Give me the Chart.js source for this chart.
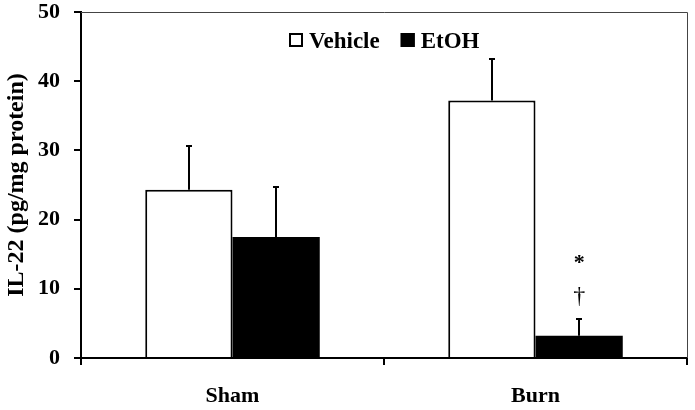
<!DOCTYPE html>
<html>
<head>
<meta charset="utf-8">
<script src="https://cdn.jsdelivr.net/npm/chart.js@4"></script>
<style>
html, body { margin: 0; padding: 0; background: #fff; }
#wrap { width: 695px; height: 410px; }
</style>
</head>
<body>
<div id="wrap"><canvas id="chart" width="695" height="410"></canvas></div>
<script>
// data
var categories = ['Sham', 'Burn'];
var vehicleValues = [24.3, 37.2];
var vehicleErrors = [6.5, 6.1];
var etohValues = [17.5, 3.2];
var etohErrors = [7.3, 2.6];
var yTicks = [0, 10, 20, 30, 40, 50];
// significance marks above Burn / EtOH
var marks = [{ text: '*', series: 1, index: 1, value: 13.7 }, { text: '\u2020', series: 1, index: 1, value: 8.8 }];

var serif = "'Liberation Serif', 'DejaVu Serif', serif";

//error bars, frame, legend and marks
var extrasPlugin = {
	id: 'extras',
	afterDatasetsDraw: function (chart) {
		var ctx = chart.ctx;
		var y = chart.scales.y;
		var area = chart.chartArea;
		ctx.save();

		//thin frame top and right
		ctx.strokeStyle = '#444';
		ctx.lineWidth = 1;
		ctx.beginPath();
		ctx.moveTo(area.left, area.top + 0.5);
		ctx.lineTo(area.right + 0.5, area.top + 0.5);
		ctx.lineTo(area.right + 0.5, area.bottom);
		ctx.stroke();

		//error bars (upper only)
		var errs = [vehicleErrors, etohErrors];
		var vals = [vehicleValues, etohValues];
		ctx.strokeStyle = '#000';
		ctx.lineWidth = 2;
		for (var d = 0; d < 2; d++) {
			var meta = chart.getDatasetMeta(d);
			for (var i = 0; i < meta.data.length; i++) {
				var cx = Math.round(meta.data[i].x);
				var yTop = y.getPixelForValue(vals[d][i]);
				var yErr = Math.round(y.getPixelForValue(vals[d][i] + errs[d][i]));
				ctx.beginPath();
				ctx.moveTo(cx, yTop);
				ctx.lineTo(cx, yErr);
				ctx.moveTo(cx - 3, yErr + 1);
				ctx.lineTo(cx + 3, yErr + 1);
				ctx.stroke();
			}
		}

		//significance marks
		ctx.fillStyle = '#000';
		ctx.textAlign = 'center';
		ctx.textBaseline = 'middle';
		for (var m = 0; m < marks.length; m++) {
			var bar = chart.getDatasetMeta(marks[m].series).data[marks[m].index];
			var isStar = marks[m].text === '*';
			ctx.font = (isStar ? 'bold 22px ' : '24px ') + serif;
			ctx.fillText(marks[m].text, bar.x, y.getPixelForValue(marks[m].value));
		}

		//legend
		var ds = chart.data.datasets;
		var lx = 289;
		var ly = 40;
		ctx.font = 'bold 23px ' + serif;
		ctx.textAlign = 'left';
		for (var k = 0; k < ds.length; k++) {
			ctx.fillStyle = ds[k].backgroundColor;
			ctx.fillRect(lx, ly - 7, 14, 14);
			ctx.strokeStyle = '#000';
			ctx.lineWidth = 2;
			ctx.strokeRect(lx + 1, ly - 6, 12, 12);
			ctx.fillStyle = '#000';
			ctx.fillText(ds[k].label, lx + 20, ly + 2);
			lx += 20 + ctx.measureText(ds[k].label).width + 21;
		}
		ctx.restore();
	}
};

var chart = new Chart(document.getElementById('chart'), {
	type: 'bar',
	data: {
		labels: categories,
		datasets: [{
			label: 'Vehicle',
			data: vehicleValues,
			backgroundColor: '#ffffff',
			borderColor: '#000000',
			borderWidth: 2,
			borderSkipped: 'bottom'
		},
		{
			label: 'EtOH',
			data: etohValues,
			backgroundColor: '#000000',
			borderColor: '#000000',
			borderWidth: 0
		}]
	},
	options: {
		responsive: false,
		animation: false,
		categoryPercentage: 0.576,
		barPercentage: 1,
		layout: { padding: { top: 0, right: 8, left: 0, bottom: 0 } },
		plugins: {
			legend: { display: false },
			tooltip: { enabled: false }
		},
		scales: {
			x: {
				afterFit: function (axis) { axis.height = 52; },
				grid: {
					offset: true,
					drawOnChartArea: false,
					color: '#000',
					lineWidth: 2,
					tickLength: 7
				},
				border: { color: '#000', width: 2 },
				ticks: {
					color: '#000',
					padding: 18,
					font: { family: serif, size: 22, weight: 'bold' }
				}
			},
			y: {
				min: 0,
				max: 50,
				afterFit: function (axis) {
					axis.width = 81;
					axis.paddingTop = 12;
				},
				afterBuildTicks: function (axis) {
					axis.ticks = yTicks.map(function (v) { return { value: v }; });
				},
				grid: {
					drawOnChartArea: false,
					color: '#000',
					lineWidth: 2,
					tickLength: 7
				},
				border: { color: '#000', width: 2 },
				ticks: {
					color: '#000',
					padding: 14,
					font: { family: serif, size: 22, weight: 'bold' }
				},
				title: {
					display: true,
					text: 'IL-22 (pg/mg protein)',
					color: '#000',
					padding: { top: 2, bottom: 0 },
					font: { family: serif, size: 24, weight: 'bold' }
				}
			}
		}
	},
	plugins: [extrasPlugin]
});
</script>
</body>
</html>
